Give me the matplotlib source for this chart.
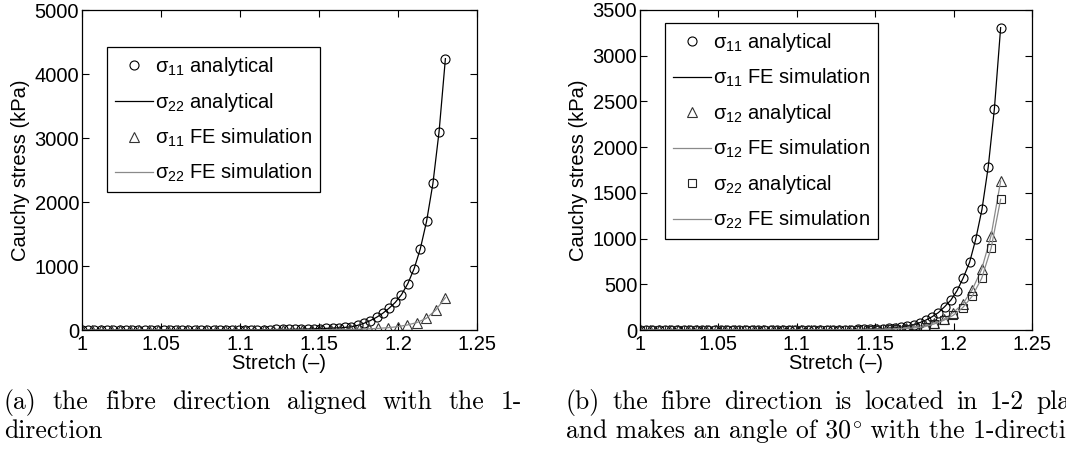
"""Cauchy stress vs stretch: analytical solution against FE simulation,
two fibre orientations side by side (MATLAB-style line plots + captions)."""

import matplotlib
matplotlib.use("Agg")
import matplotlib.pyplot as plt
from matplotlib.ticker import MultipleLocator

plt.rcParams["font.family"] = ["Liberation Sans", "DejaVu Sans"]
plt.rcParams["mathtext.fontset"] = "custom"
plt.rcParams["mathtext.rm"] = "Liberation Sans"
plt.rcParams["mathtext.it"] = "Liberation Sans:italic"

# stretch samples of the analytical curves (circles)
STRETCH_FINE = [1.0000, 1.0040, 1.0079, 1.0119, 1.0159, 1.0198, 1.0238, 1.0278, 1.0317, 1.0357,
                1.0397, 1.0436, 1.0476, 1.0516, 1.0555, 1.0595, 1.0634, 1.0674, 1.0714, 1.0753,
                1.0793, 1.0833, 1.0872, 1.0912, 1.0952, 1.0991, 1.1031, 1.1071, 1.1110, 1.1150,
                1.1190, 1.1229, 1.1269, 1.1309, 1.1348, 1.1388, 1.1428, 1.1467, 1.1507, 1.1547,
                1.1586, 1.1626, 1.1666, 1.1705, 1.1745, 1.1784, 1.1824, 1.1864, 1.1903, 1.1943,
                1.1983, 1.2022, 1.2062, 1.2102, 1.2141, 1.2181, 1.2221, 1.2260, 1.2300]
# stretch samples of the coarser curves (triangles, squares)
STRETCH_COARSE = [1.0000, 1.0061, 1.0121, 1.0182, 1.0242, 1.0303, 1.0363, 1.0424, 1.0484, 1.0545,
                  1.0605, 1.0666, 1.0726, 1.0787, 1.0847, 1.0908, 1.0968, 1.1029, 1.1089, 1.1150,
                  1.1211, 1.1271, 1.1332, 1.1392, 1.1453, 1.1513, 1.1574, 1.1634, 1.1695, 1.1755,
                  1.1816, 1.1876, 1.1937, 1.1997, 1.2058, 1.2118, 1.2179, 1.2239, 1.2300]

# (a) fibre aligned with the 1-direction, kPa
A_S11 = [0, 0, 0, 0, 0, 0, 0, 0, 0, 0,
         0, 0, 1, 1, 1, 1, 1, 1, 2, 2,
         2, 2, 3, 3, 3, 4, 4, 5, 5, 6,
         7, 8, 9, 10, 12, 14, 16, 19, 22, 26,
         30, 35, 41, 52, 73, 104, 146, 198, 260, 339,
         432, 552, 724, 958, 1266, 1700, 2290, 3100, 4240]
A_S22 = [0, 0, 0, 0, 0, 0, 0, 0, 0, 0,
         0, 0, 0, 0, 0, 0, 0, 0, 0, 0,
         1, 1, 1, 2, 2, 3, 4, 6, 9, 13,
         18, 26, 36, 52, 78, 115, 182, 312, 505]

# (b) fibre in the 1-2 plane at 30 degrees, kPa
B_S11 = [0, 0, 0, 0, 0, 0, 0, 0, 0, 0,
         0, 0, 0, 1, 1, 1, 1, 1, 1, 1,
         1, 1, 1, 1, 1, 2, 2, 2, 2, 2,
         2, 3, 3, 4, 5, 6, 7, 8, 11, 14,
         18, 24, 32, 43, 58, 80, 109, 146, 190, 255,
         328, 430, 572, 740, 992, 1320, 1786, 2417, 3307]
B_S12 = [0, 0, 0, 0, 0, 0, 0, 0, 0, 0,
         0, 0, 0, 0, 0, 0, 0, 1, 1, 1,
         1, 2, 3, 4, 5, 8, 12, 17, 25, 37,
         55, 80, 117, 190, 284, 438, 664, 1032, 1630]
B_S22 = [0, 0, 0, 0, 0, 0, 0, 0, 0, 0,
         0, 0, 0, 0, 0, 0, 0, 0, 0, 0,
         0, 1, 1, 2, 3, 5, 7, 11, 16, 24,
         36, 66, 106, 160, 244, 368, 565, 894, 1430]

XTICKS = [1, 1.05, 1.1, 1.15, 1.2, 1.25]
XTICK_LABELS = ["1", "1.05", "1.1", "1.15", "1.2", "1.25"]

GRAY = "#8a8a8a"
FS = 14.5
CAP_FS = 18.5
CAP_FONT = "cmr10"


def marks(ax, x, y, marker, label, color="black", size=6.5):
    ax.plot(x, y, linestyle="none", marker=marker, markersize=size,
            markerfacecolor="none", markeredgecolor=color,
            markeredgewidth=0.8, label=label)


def curve(ax, x, y, color, label):
    ax.plot(x, y, color=color, linewidth=0.9, label=label)


def style_axes(ax, ymax, ystep):
    ax.set_xlim(1, 1.25)
    ax.set_ylim(0, ymax)
    ax.set_xticks(XTICKS)
    ax.set_xticklabels(XTICK_LABELS)
    ax.yaxis.set_major_locator(MultipleLocator(ystep))
    ax.tick_params(direction="in", top=True, right=True, length=5,
                   width=0.8, labelsize=FS, pad=2)
    ax.tick_params(axis="x", pad=3.5)
    for s in ax.spines.values():
        s.set_linewidth(0.9)
    ax.set_xlabel("Stretch (–)", fontsize=FS, labelpad=0)
    ax.set_ylabel("Cauchy stress (kPa)", fontsize=FS, labelpad=3)


def legend(ax, anchor):
    leg = ax.legend(loc="upper left", bbox_to_anchor=anchor, borderaxespad=0,
                    fontsize=FS, frameon=True, fancybox=False, framealpha=1,
                    edgecolor="black", handlelength=1.9, handletextpad=0.1,
                    labelspacing=0.64, borderpad=0.4)
    leg.get_frame().set_linewidth(0.9)


def justified(fig, text, x0, x1, y_px, renderer):
    # spread the words of one caption line over [x0, x1] pixels, LaTeX style
    W, H = fig.bbox.width, fig.bbox.height
    words = text.split()
    items = [fig.text(0, 0, w, fontsize=CAP_FS, family=CAP_FONT, va="baseline")
             for w in words]
    widths = [t.get_window_extent(renderer).width for t in items]
    gap = (x1 - x0 - sum(widths)) / (len(words) - 1)
    x = x0
    for t, w in zip(items, widths):
        t.set_position((x / W, (H - y_px) / H))
        x += w + gap


def run(fig, parts, x0, y_px, renderer):
    # a caption line made of pieces set one after the other
    W, H = fig.bbox.width, fig.bbox.height
    x = x0
    for s, kw in parts:
        t = fig.text(x / W, (H - y_px) / H, s, fontsize=CAP_FS, va="baseline", **kw)
        x += t.get_window_extent(renderer).width


def sig(n):
    return r"$\mathrm{σ}_{%s}$" % n


def main():
    fig = plt.figure(figsize=(10.66, 4.59), dpi=100)
    W, H = 1066, 459
    axL = fig.add_axes([82 / W, (H - 330) / H, 395 / W, 320 / H])
    axR = fig.add_axes([640 / W, (H - 330) / H, 392 / W, 320 / H])

    # (a)
    marks(axL, STRETCH_FINE, A_S11, "o", sig(11) + " analytical")
    curve(axL, STRETCH_FINE, A_S11, "black", sig(22) + " analytical")
    marks(axL, STRETCH_COARSE, A_S22, "^", sig(11) + " FE simulation", "#333333")
    curve(axL, STRETCH_COARSE, A_S22, GRAY, sig(22) + " FE simulation")
    style_axes(axL, 5000, 1000)
    legend(axL, ((107 - 82) / 395, (330 - 47) / 320))

    # (b)
    marks(axR, STRETCH_FINE, B_S11, "o", sig(11) + " analytical")
    curve(axR, STRETCH_FINE, B_S11, "black", sig(11) + " FE simulation")
    marks(axR, STRETCH_COARSE, B_S12, "^", sig(12) + " analytical", "#333333")
    curve(axR, STRETCH_COARSE, B_S12, GRAY, sig(12) + " FE simulation")
    marks(axR, STRETCH_COARSE, B_S22, "s", sig(22) + " analytical", "#222222", 5.5)
    curve(axR, STRETCH_COARSE, B_S22, GRAY, sig(22) + " FE simulation")
    style_axes(axR, 3500, 500)
    legend(axR, ((665 - 640) / 392, (330 - 23) / 320))

    # sub-figure captions
    r = fig.canvas.get_renderer()
    justified(fig, "(a) the fibre direction aligned with the 1-", 4, 522, 409, r)
    fig.text(4 / W, (H - 438) / H, "direction", fontsize=CAP_FS,
             family=CAP_FONT, va="baseline")
    justified(fig, "(b) the fibre direction is located in 1-2 plane",
              566, 1096, 409, r)
    run(fig, [("and makes an angle of 30", dict(family=CAP_FONT)),
              (r"$^{\circ}$", dict(math_fontfamily="cm")),
              (" with the 1-direction", dict(family=CAP_FONT))], 566, 438, r)

    fig.savefig("out.png", dpi=100)


if __name__ == "__main__":
    main()
